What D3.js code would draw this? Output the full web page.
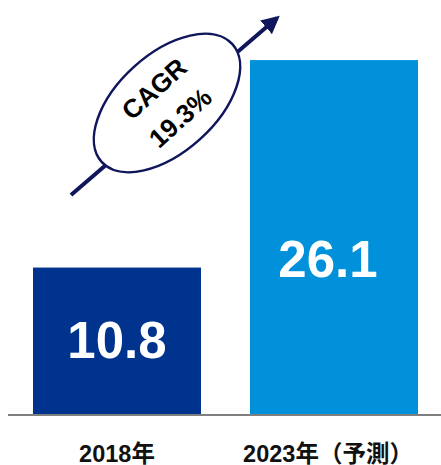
<!DOCTYPE html>
<html>
<head>
<meta charset="utf-8">
<script src="https://cdn.jsdelivr.net/npm/d3@7"></script>
<style>
  html, body { margin: 0; padding: 0; background: #fff; }
  svg { display: block; }
</style>
</head>
<body>
<div id="chart"></div>
<script>
/* Data */
const categories = ["2018年", "2023年（予測）"];
const values = [10.8, 26.1];
const barColors = ["#00338D", "#0091DA"];
const cagrLines = ["CAGR", "19.3%"];

const W = 441, H = 465;
const font = "'Liberation Sans', Arial, 'Noto Sans CJK JP', sans-serif";
const navy = "#10165c";

const svg = d3.select("#chart").append("svg")
    .attr("width", W)
    .attr("height", H);

/* Scales */
const x = d3.scaleBand().domain(categories).range([33, 418]).paddingInner(49 / 217).paddingOuter(0);
const y = d3.scaleLinear().domain([0, 30]).range([414, 7.2]);

/* Bars */
svg.selectAll(".bar")
    .data(values)
    .join("rect")
      .attr("class", "bar")
      .attr("x", (d, i) => x(categories[i]))
      .attr("y", d => y(d))
      .attr("width", x.bandwidth())
      .attr("height", d => y(0) - y(d))
      .style("fill", (d, i) => barColors[i]);

/* Value labels inside the bars */
const labelDrop = [90, 217];
svg.selectAll(".val")
    .data(values)
    .join("text")
      .attr("class", "val")
      .attr("x", (d, i) => x(categories[i]) + x.bandwidth() / 2 - (i ? 6 : 0))
      .attr("y", (d, i) => y(d) + labelDrop[i])
      .attr("text-anchor", "middle")
      .style("font-family", font)
      .style("font-size", "51px")
      .style("font-weight", "bold")
      .style("fill", "#fff")
      .text(d => d.toFixed(1));

/* Baseline */
svg.append("line")
    .attr("x1", 8).attr("x2", W)
    .attr("y1", y(0) + 1).attr("y2", y(0) + 1)
    .style("stroke", "#7f7f7f")
    .style("stroke-width", 2);

/* Category labels */
svg.selectAll(".cat")
    .data(categories)
    .join("text")
      .attr("class", "cat")
      .attr("x", (d, i) => x(d) + x.bandwidth() / 2 - (i ? 6 : 0))
      .attr("y", 462)
      .attr("text-anchor", "middle")
      .style("font-family", font)
      .style("font-size", "23.5px")
      .style("font-weight", "bold")
      .style("fill", "#111")
      .text(d => d);

/* CAGR arrow */
svg.append("defs").append("marker")
    .attr("id", "head")
    .attr("viewBox", "0 0 10 10")
    .attr("refX", 8).attr("refY", 5)
    .attr("markerWidth", 4.5).attr("markerHeight", 4.5)
    .attr("orient", "auto")
  .append("path")
    .attr("d", "M0,0 L10,5 L0,10 Z")
    .style("fill", navy);

svg.append("line")
    .attr("x1", 71).attr("y1", 195)
    .attr("x2", 277).attr("y2", 18)
    .style("stroke", navy)
    .style("stroke-width", 4)
    .attr("marker-end", "url(#head)");

const bubble = svg.append("g")
    .attr("transform", "translate(167,103) rotate(-42)");

bubble.append("ellipse")
    .attr("rx", 88).attr("ry", 49)
    .style("fill", "#fff")
    .style("stroke", navy)
    .style("stroke-width", 2.5);

bubble.selectAll("text")
    .data(cagrLines)
    .join("text")
      .attr("x", 0)
      .attr("y", (d, i) => i ? 29 : -10)
      .attr("text-anchor", "middle")
      .style("font-family", font)
      .style("font-size", "26px")
      .style("font-weight", "bold")
      .style("fill", "#000")
      .text(d => d);
</script>
</body>
</html>
